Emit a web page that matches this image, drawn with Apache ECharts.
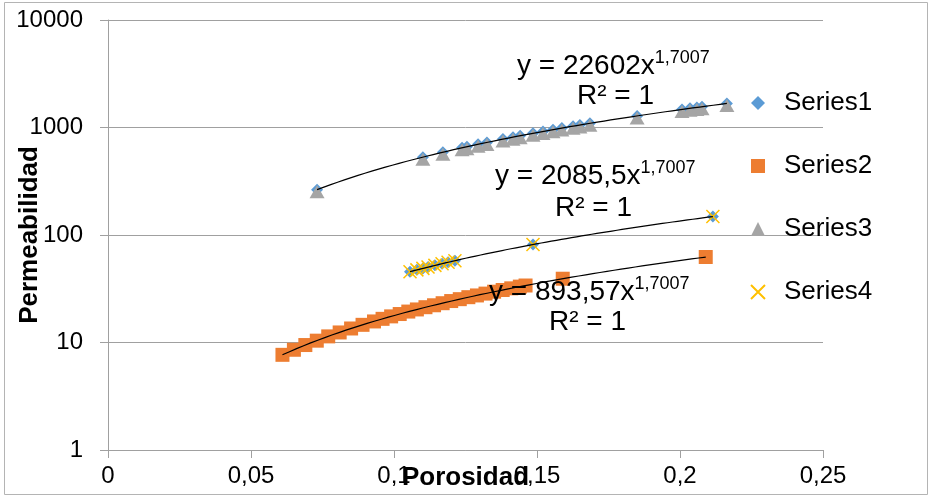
<!DOCTYPE html>
<html>
<head>
<meta charset="utf-8">
<script src="https://cdn.jsdelivr.net/npm/echarts@6/dist/echarts.min.js"></script>
<style>
  html, body { margin: 0; padding: 0; background: #fff; }
  #chart { width: 932px; height: 497px; }
</style>
</head>
<body>
<div id="chart"></div>
<script>
// porosity (x) / permeability (y)
var s3X = [0.0731, 0.1101, 0.1171, 0.1238, 0.1255, 0.1294, 0.1325, 0.1381, 0.1416, 0.1441, 0.1486, 0.1521,
           0.1556, 0.1587, 0.1626, 0.1650, 0.1685, 0.1850, 0.2007, 0.2035, 0.2059, 0.2077, 0.2164];
var s3Y = [264, 530, 589, 647, 662, 698, 726, 780, 813, 838, 883, 919,
           955, 987, 1029, 1055, 1094, 1282, 1472, 1507, 1538, 1561, 1673];

var s4X = [0.1056, 0.1080, 0.1101, 0.1119, 0.1143, 0.1168, 0.1189, 0.1213, 0.1486, 0.2115];
var s4Y = [45.6, 47.4, 48.9, 50.3, 52.2, 54.1, 55.8, 57.7, 81.5, 148.5];

var s2X = [0.061, 0.065, 0.069, 0.073, 0.077, 0.081, 0.085, 0.089, 0.093, 0.096, 0.099, 0.102, 0.105, 0.108,
           0.111, 0.114, 0.117, 0.120, 0.123, 0.126, 0.129, 0.132, 0.135, 0.138, 0.141, 0.144, 0.146, 0.159, 0.209];
var s2Y = [7.68, 8.56, 9.47, 10.4, 11.4, 12.4, 13.5, 14.6, 15.7, 16.6, 17.5, 18.4, 19.4, 20.3,
           21.3, 22.2, 23.2, 24.3, 25.3, 26.4, 27.4, 28.5, 29.7, 30.8, 31.9, 33.1, 33.9, 39.2, 62.4];

// Series1 sits under Series3 and Series4
var s1X = s3X.concat(s4X);
var s1Y = s3Y.concat(s4Y);

var seriesNames = ['Series1', 'Series2', 'Series3', 'Series4'];
var xTicks = [0, 0.05, 0.1, 0.15, 0.2, 0.25];
var yTicks = [1, 10, 100, 1000, 10000];

// power trendlines y = a * x^b
var trendCoef = [22602, 2085.5, 893.57];
var trendExp = 1.7007;
var trendFrom = [0.0731, 0.1056, 0.061];
var trendTo = [0.2164, 0.2115, 0.209];
var trendText = ['22602', '2085,5', '893,57'];

var FONT = 'Liberation Sans, Arial, sans-serif';

function pairs(xs, ys) {
  return xs.map(function (x, i) { return [x, ys[i]]; });
}

function trend(k) {
  var pts = [];
  var n = 60;
  for (var i = 0; i <= n; i++) {
    var x = trendFrom[k] + (trendTo[k] - trendFrom[k]) * i / n;
    pts.push([x, trendCoef[k] * Math.pow(x, trendExp)]);
  }
  return pts;
}

function eqLabel(k, x, y, rx, ry) {
  return [
    {
      type: 'text', x: x, y: y, z: 100,
      style: {
        text: '{a|y = ' + trendText[k] + 'x}{b|1,7007}',
        verticalAlign: 'middle',
        rich: {
          a: { fontSize: 28, fontFamily: FONT, fill: '#000' },
          b: { fontSize: 18, fontFamily: FONT, fill: '#000', padding: [0, 0, 16, 0] }
        }
      }
    },
    {
      type: 'text', x: rx, y: ry, z: 100,
      style: { text: 'R² = 1', fontSize: 28, fontFamily: FONT, fill: '#000', verticalAlign: 'middle' }
    }
  ];
}

var chart = echarts.init(document.getElementById('chart'));

var option = {
  backgroundColor: '#fff',
  animation: false,
  grid: { left: 108, right: 109, top: 20, bottom: 47, containLabel: false, outerBoundsMode: 'none' },
  legend: {
    orient: 'vertical',
    left: 745,
    top: 85,
    itemWidth: 14,
    itemHeight: 14,
    itemGap: 37,
    data: seriesNames,
    textStyle: { fontSize: 26, fontFamily: FONT, color: '#000', lineHeight: 26, padding: [0, 0, 0, 14] }
  },
  xAxis: {
    type: 'value',
    min: xTicks[0],
    max: xTicks[xTicks.length - 1],
    interval: 0.05,
    name: 'Porosidad',
    nameLocation: 'middle',
    nameGap: 15,
    nameMoveOverlap: false,
    nameTextStyle: { fontSize: 26, fontWeight: 'bold', fontFamily: FONT, color: '#000' },
    axisLine: { show: true, lineStyle: { color: '#a0a0a0' } },
    axisTick: { show: true, length: 8, lineStyle: { color: '#a0a0a0' } },
    axisLabel: {
      margin: 14, fontSize: 24, fontFamily: FONT, color: '#000',
      formatter: function (v) { return String(+v.toFixed(2)).replace('.', ','); }
    },
    splitLine: { show: false }
  },
  yAxis: {
    type: 'log',
    logBase: 10,
    min: yTicks[0],
    max: yTicks[yTicks.length - 1],
    name: 'Permeabilidad',
    nameLocation: 'middle',
    nameGap: 65,
    nameMoveOverlap: false,
    nameTextStyle: { fontSize: 26, fontWeight: 'bold', fontFamily: FONT, color: '#000' },
    axisLine: { show: true, lineStyle: { color: '#a0a0a0' } },
    axisTick: { show: true, length: 8, lineStyle: { color: '#a0a0a0' } },
    axisLabel: {
      margin: 25, fontSize: 24, fontFamily: FONT, color: '#000',
      formatter: function (v) { return String(Math.round(v)); }
    },
    splitLine: { show: true, lineStyle: { color: '#a0a0a0' } },
    minorTick: { show: false }
  },
  graphic: [
    {
      type: 'rect', z: -1, silent: true,
      shape: { x: 4.5, y: 2.5, width: 923, height: 492 },
      style: { fill: 'none', stroke: '#b4b4b4', lineWidth: 1 }
    }
  ].concat(eqLabel(0, 517, 66, 577, 96))
   .concat(eqLabel(1, 495, 176, 555, 208))
   .concat(eqLabel(2, 489, 292, 549, 322)),
  series: [
    {
      name: 'Series1', type: 'scatter', symbol: 'diamond', symbolSize: 12,
      itemStyle: { color: '#5b9bd5', opacity: 1 },
      data: pairs(s1X, s1Y)
    },
    {
      name: 'Series2', type: 'scatter', symbol: 'rect', symbolSize: 14,
      itemStyle: { color: '#ed7d31', opacity: 1 },
      data: pairs(s2X, s2Y)
    },
    {
      name: 'Series3', type: 'scatter', symbol: 'triangle', symbolSize: [15, 13], symbolOffset: [0, 2],
      itemStyle: { color: '#a5a5a5', opacity: 1 },
      data: pairs(s3X, s3Y)
    },
    {
      name: 'Series4', type: 'scatter', symbol: 'path://M0,0L10,10M10,0L0,10', symbolSize: 13,
      itemStyle: { color: 'rgba(0,0,0,0)', borderColor: '#ffc000', borderWidth: 1.5, opacity: 1 },
      data: pairs(s4X, s4Y)
    },
    { name: 'trend1', type: 'line', data: trend(0), showSymbol: false, silent: true, lineStyle: { color: '#000', width: 1.2 }, z: 5 },
    { name: 'trend2', type: 'line', data: trend(1), showSymbol: false, silent: true, lineStyle: { color: '#000', width: 1.2 }, z: 5 },
    { name: 'trend3', type: 'line', data: trend(2), showSymbol: false, silent: true, lineStyle: { color: '#000', width: 1.2 }, z: 5 }
  ]
};

chart.setOption(option);
</script>
</body>
</html>
